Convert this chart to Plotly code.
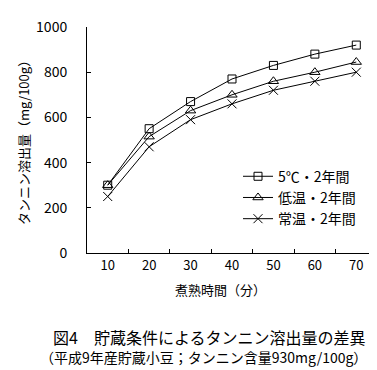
import plotly.graph_objects as go

times = ["10", "20", "30", "40", "50", "60", "70"]
s_5c = [300, 550, 670, 770, 830, 880, 920]
s_low = [300, 515, 630, 700, 760, 800, 845]
s_room = [250, 470, 590, 660, 720, 760, 800]
y_ticks = [0, 200, 400, 600, 800, 1000]
names = ["5℃・2年間", "低温・2年間", "常温・2年間"]
symbols = ["square-open", "triangle-up-open", "x-thin-open"]
sizes = [8, 9, 9]

FONT = "Noto Sans CJK JP"
fig = go.Figure()
for name, vals, sym, sz in zip(names, [s_5c, s_low, s_room], symbols, sizes):
    fig.add_trace(go.Scatter(
        x=times, y=vals, name=name, mode="lines+markers",
        line=dict(color="black", width=1),
        marker=dict(symbol=sym, size=sz, color="black",
                    line=dict(color="black", width=1)),
    ))

W, H = 377, 370
L, R, T, B = 79, 8, 10, 125
pw, ph = W - L - R, H - T - B

def px(x):
    return (x - L) / pw

def py(y):
    return (H - B - y) / ph

fig.update_layout(
    width=W, height=H,
    margin=dict(l=L, r=R, t=T, b=B, pad=0),
    paper_bgcolor="white", plot_bgcolor="white",
    font=dict(family=FONT, size=13, color="black"),
    showlegend=True,
    legend=dict(x=px(230), y=py(149), xanchor="left", yanchor="top",
                bgcolor="rgba(0,0,0,0)", font=dict(size=14),
                tracegroupgap=0),
    xaxis=dict(type="category", range=[-0.5, 6.5], tickson="boundaries",
               ticks="inside", ticklen=4, tickcolor="black",
               showline=True, linecolor="black", linewidth=1,
               showgrid=False, zeroline=False, ticklabelstandoff=0,
               tickfont=dict(size=13)),
    yaxis=dict(range=[0, 1000], tickmode="array", tickvals=y_ticks,
               ticktext=[str(v) for v in y_ticks], ticks="inside",
               ticklen=4, ticklabeloverflow="allow",
               tickcolor="black", showline=True, linecolor="black",
               linewidth=1, showgrid=False, zeroline=False,
               ticklabelstandoff=16, tickfont=dict(size=14)),
    annotations=[
        dict(text="タンニン溶出量（mg/100g）", x=px(15), y=0.5, xref="paper",
             yref="paper", textangle=-90, showarrow=False,
             xanchor="center", yanchor="middle", font=dict(size=13)),
        dict(text="煮熟時間（分）", x=px(212), y=py(283), xref="paper",
             yref="paper", showarrow=False, xanchor="center",
             yanchor="middle", font=dict(size=13)),
        dict(text="図4　貯蔵条件によるタンニン溶出量の差異", x=px(201),
             y=py(332), xref="paper", yref="paper", showarrow=False,
             xanchor="center", yanchor="middle", font=dict(size=16)),
        dict(text="（平成9年産貯蔵小豆；タンニン含量930mg/100g）", x=px(195),
             y=py(353), xref="paper", yref="paper", showarrow=False,
             xanchor="center", yanchor="middle", font=dict(size=14)),
    ],
)

fig.write_html("out.html")
